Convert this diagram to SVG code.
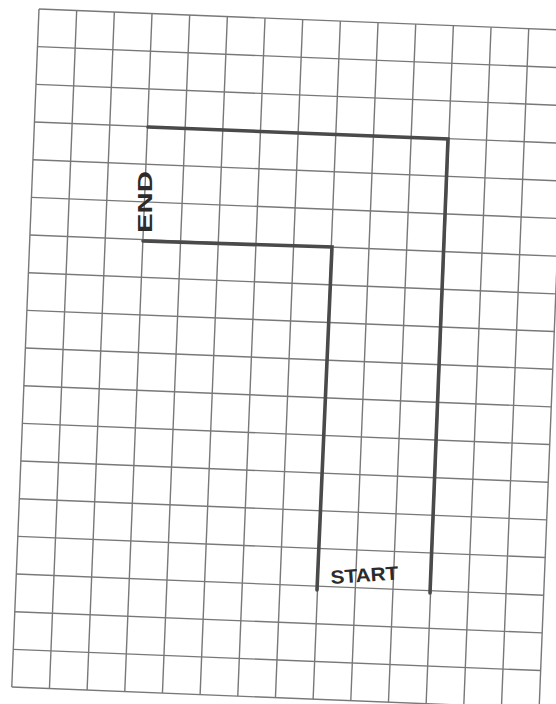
<svg xmlns="http://www.w3.org/2000/svg" width="556" height="704" viewBox="0 0 556 704">
<style>
.g{stroke:#787878;stroke-width:1.4;fill:none}
.d{stroke:#4a4a4a;stroke-width:3.6;fill:none;stroke-linecap:round;stroke-linejoin:miter}
.t{font-family:"Liberation Sans",Arial,sans-serif;font-weight:bold;fill:#2b2b2b}
</style>
<rect width="556" height="704" fill="#ffffff"/>
<g id="grid" transform="translate(39,9) rotate(2.3)">
<g class="g">
<line x1="0" y1="0" x2="0" y2="678.6"/>
<line x1="37.7" y1="0" x2="37.7" y2="678.6"/>
<line x1="75.4" y1="0" x2="75.4" y2="678.6"/>
<line x1="113.1" y1="0" x2="113.1" y2="678.6"/>
<line x1="150.8" y1="0" x2="150.8" y2="678.6"/>
<line x1="188.5" y1="0" x2="188.5" y2="678.6"/>
<line x1="226.2" y1="0" x2="226.2" y2="678.6"/>
<line x1="263.9" y1="0" x2="263.9" y2="678.6"/>
<line x1="301.6" y1="0" x2="301.6" y2="678.6"/>
<line x1="339.3" y1="0" x2="339.3" y2="678.6"/>
<line x1="377" y1="0" x2="377" y2="678.6"/>
<line x1="414.7" y1="0" x2="414.7" y2="678.6"/>
<line x1="452.4" y1="0" x2="452.4" y2="678.6"/>
<line x1="490.1" y1="0" x2="490.1" y2="678.6"/>
<line x1="527.8" y1="0" x2="527.8" y2="678.6"/>
<line x1="0" y1="0" x2="527.8" y2="0"/>
<line x1="0" y1="37.7" x2="527.8" y2="37.7"/>
<line x1="0" y1="75.4" x2="527.8" y2="75.4"/>
<line x1="0" y1="113.1" x2="527.8" y2="113.1"/>
<line x1="0" y1="150.8" x2="527.8" y2="150.8"/>
<line x1="0" y1="188.5" x2="527.8" y2="188.5"/>
<line x1="0" y1="226.2" x2="527.8" y2="226.2"/>
<line x1="0" y1="263.9" x2="527.8" y2="263.9"/>
<line x1="0" y1="301.6" x2="527.8" y2="301.6"/>
<line x1="0" y1="339.3" x2="527.8" y2="339.3"/>
<line x1="0" y1="377" x2="527.8" y2="377"/>
<line x1="0" y1="414.7" x2="527.8" y2="414.7"/>
<line x1="0" y1="452.4" x2="527.8" y2="452.4"/>
<line x1="0" y1="490.1" x2="527.8" y2="490.1"/>
<line x1="0" y1="527.8" x2="527.8" y2="527.8"/>
<line x1="0" y1="565.5" x2="527.8" y2="565.5"/>
<line x1="0" y1="603.2" x2="527.8" y2="603.2"/>
<line x1="0" y1="640.9" x2="527.8" y2="640.9"/>
<line x1="0" y1="678.6" x2="527.8" y2="678.6"/>
</g>
</g>
<g id="connectors">
<path id="outer-path" class="d" d="M148,127 L448,139 L430,593"/>
<path id="inner-path" class="d" d="M143,241 L332,247 L317,590"/>
</g>
<g id="start-label">
<text class="t" x="0" y="0" font-size="19" textLength="68" lengthAdjust="spacingAndGlyphs" transform="translate(331,584) rotate(-4)">START</text>
</g>
<g id="end-label">
<text class="t" x="0" y="0" font-size="20" textLength="62" lengthAdjust="spacingAndGlyphs" transform="translate(152,233) rotate(-90)">END</text>
</g>
</svg>
